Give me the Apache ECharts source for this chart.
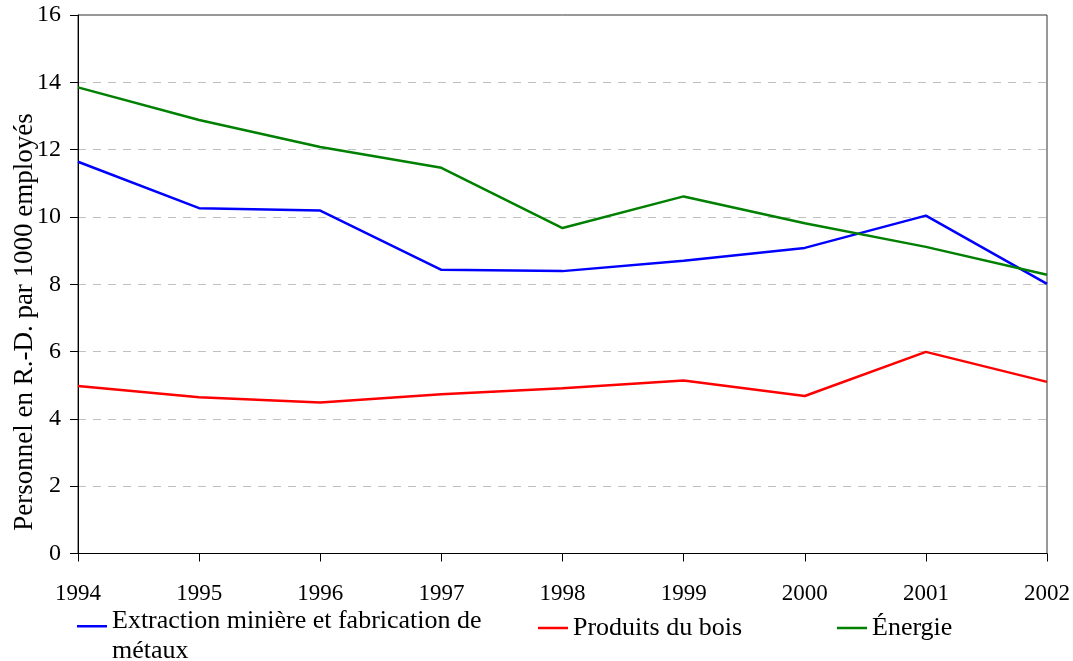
<!DOCTYPE html>
<html>
<head>
<meta charset="utf-8">
<script src="https://cdn.jsdelivr.net/npm/echarts@6/dist/echarts.min.js"></script>
<style>
  html, body { margin: 0; padding: 0; background: #fff; }
  #chart { width: 1073px; height: 661px; }
</style>
</head>
<body>
<div id="chart"></div>
<script>
var years = ['1994', '1995', '1996', '1997', '1998', '1999', '2000', '2001', '2002'];
var extraction = [11.64, 10.26, 10.19, 8.43, 8.39, 8.70, 9.08, 10.04, 8.01];
var bois = [4.98, 4.64, 4.49, 4.73, 4.91, 5.14, 4.68, 5.99, 5.10];
var energie = [13.85, 12.88, 12.08, 11.46, 9.67, 10.61, 9.81, 9.11, 8.28];
var yTicks = [0, 2, 4, 6, 8, 10, 12, 14, 16];

var font = '"Liberation Serif", "Times New Roman", serif';
var chart = echarts.init(document.getElementById('chart'));

// legend swatch: a short line sitting at the top of its box (used for the two-line entry)
var topLineIcon = 'path://M0,0H30V2.5H0Z M0,22H0.01V22.01H0Z';

function legendFor(name, left, top, icon, h) {
  return {
    data: [name],
    left: left,
    top: top,
    padding: 0,
    icon: icon,
    itemWidth: 30,
    itemHeight: h,
    itemGap: 0,
    selectedMode: false,
    formatter: function (n) {
      return n === 'Extraction minière et fabrication de métaux'
        ? 'Extraction minière et fabrication de\nmétaux' : n;
    },
    textStyle: { fontFamily: font, fontSize: 26, color: '#000', lineHeight: 30 }
  };
}

chart.setOption({
  animation: false,
  backgroundColor: '#fff',
  grid: {
    show: true,
    left: 78,
    right: 26,
    top: 15,
    bottom: 107.5,
    borderColor: '#333',
    borderWidth: 1,
    backgroundColor: 'transparent'
  },
  legend: [
    legendFor('Extraction minière et fabrication de métaux', 77, 606, topLineIcon, 22),
    legendFor('Produits du bois', 538, 613, 'rect', 2.5),
    legendFor('Énergie', 837, 613, 'rect', 2.5)
  ],
  graphic: [{
    type: 'text',
    x: 25,
    y: 322,
    rotation: Math.PI / 2,
    style: {
      text: 'Personnel en R.-D. par 1000 employés',
      font: '27px ' + font,
      fill: '#000',
      align: 'center',
      verticalAlign: 'middle'
    }
  }],
  xAxis: {
    type: 'category',
    data: years,
    boundaryGap: false,
    axisLine: { lineStyle: { color: '#000', width: 1 } },
    axisTick: { show: true, inside: false, length: 8, alignWithLabel: true, lineStyle: { color: '#000' } },
    axisLabel: { fontFamily: font, fontSize: 23, color: '#000', margin: 29 },
    splitLine: { show: false }
  },
  yAxis: {
    type: 'value',
    min: yTicks[0],
    max: yTicks[yTicks.length - 1],
    interval: 2,
    axisLine: { show: true, lineStyle: { color: '#000', width: 1 } },
    axisTick: { show: true, inside: false, length: 8, lineStyle: { color: '#000' } },
    axisLabel: { fontFamily: font, fontSize: 24, color: '#000', margin: 17 },
    splitLine: { show: true, showMaxLine: false, showMinLine: false, lineStyle: { color: '#c0c0c0', width: 1, type: [8, 7] } }
  },
  series: [
    {
      name: 'Extraction minière et fabrication de métaux',
      type: 'line',
      data: extraction,
      symbol: 'none',
      color: '#0000ff',
      lineStyle: { color: '#0000ff', width: 2.5 }
    },
    {
      name: 'Produits du bois',
      type: 'line',
      data: bois,
      symbol: 'none',
      color: '#ff0000',
      lineStyle: { color: '#ff0000', width: 2.5 }
    },
    {
      name: 'Énergie',
      type: 'line',
      data: energie,
      symbol: 'none',
      color: '#008000',
      lineStyle: { color: '#008000', width: 2.5 }
    }
  ]
});
</script>
</body>
</html>
